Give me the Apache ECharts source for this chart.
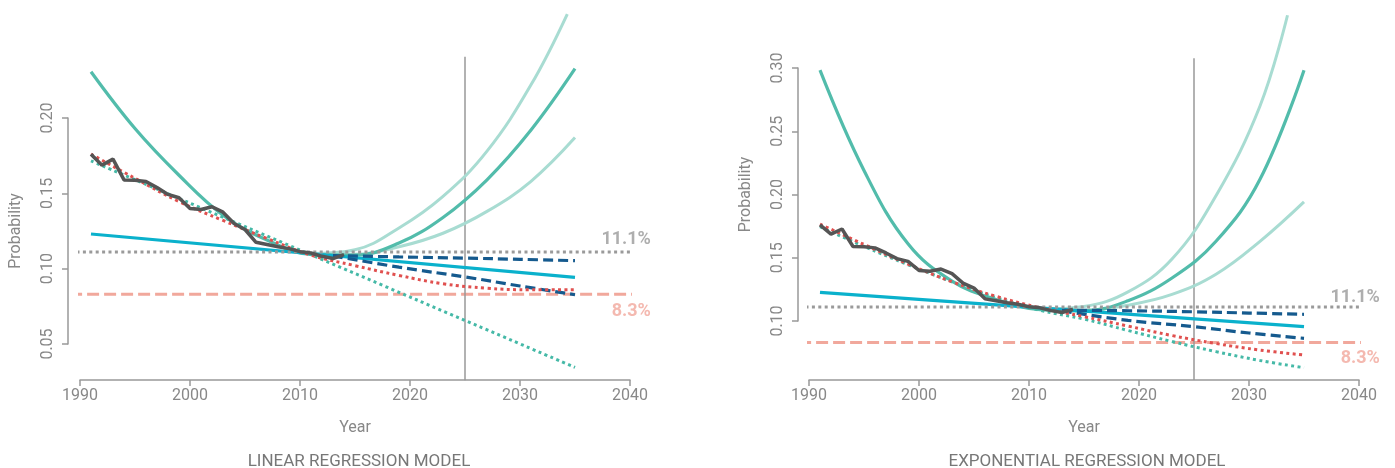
<!DOCTYPE html>
<html>
<head>
<meta charset="utf-8">
<script src="https://cdn.jsdelivr.net/npm/echarts@6/dist/echarts.min.js"></script>
<style>
  html, body { margin: 0; padding: 0; background: #fff; }
  #chart { width: 1395px; height: 468px; }
</style>
</head>
<body>
<div id="chart"></div>
<script>
// observed yearly probability (same in both panels)
const obsYears = [1991, 1992, 1993, 1994, 1995, 1996, 1997, 1998, 1999, 2000, 2001, 2002,
  2003, 2004, 2005, 2006, 2007, 2008, 2009, 2010, 2011, 2012, 2013, 2014]
const observed = [0.176, 0.1687, 0.1727, 0.1589, 0.1587, 0.1578, 0.1538, 0.1493, 0.1471, 0.140,
  0.1393, 0.1411, 0.1375, 0.130, 0.126, 0.1175, 0.116, 0.1145, 0.1133, 0.1113, 0.1104, 0.1082,
  0.1067, 0.1093]

// years the fitted curves were read at
const fitYears = [1991, 1995, 1999, 2003, 2007, 2011, 2015, 2019, 2023, 2027, 2031, 2035]
const lineYears = [1991, 2035]
const bandYears = [2011, 2015, 2019, 2023, 2027, 2031, 2035]
const dashYears = [2013, 2019, 2025, 2030, 2035]

// linear regression model (left)
const linRedDot = [0.176, 0.160, 0.1445, 0.132, 0.120, 0.109, 0.102, 0.0955, 0.090, 0.087, 0.086, 0.086]
const linGreenDot = [0.1715, 0.0345]
const linCurve = [0.2307, 0.193, 0.162, 0.1355, 0.119, 0.1095, 0.109, 0.117, 0.134, 0.159, 0.192, 0.2327]
const linUpperYears = [2011, 2015, 2019, 2023, 2027, 2031, 2034.3]
const linUpper = [0.110, 0.1125, 0.127, 0.148, 0.178, 0.222, 0.269]
const linLower = [0.110, 0.1095, 0.1145, 0.1235, 0.138, 0.158, 0.187]
const linCyan = [0.123, 0.0942]
const linDashHigh = [0.1087, 0.1078, 0.107, 0.1062, 0.1053]
const linDashLow = [0.1085, 0.101, 0.0945, 0.0885, 0.0827]

// exponential regression model (right)
const expRedDot = [0.1766, 0.1605, 0.145, 0.131, 0.1195, 0.1105, 0.1035, 0.096, 0.0885, 0.0822, 0.077, 0.0731]
const expGreenDot = [0.1745, 0.159, 0.1445, 0.131, 0.1185, 0.1085, 0.1015, 0.0925, 0.0838, 0.0758, 0.0688, 0.0631]
const expCurve = [0.2983, 0.219, 0.161, 0.1315, 0.117, 0.109, 0.108, 0.116, 0.134, 0.163, 0.212, 0.2983]
const expUpperYears = [2011, 2015, 2019, 2023, 2027, 2031, 2033.5]
const expUpper = [0.1095, 0.1115, 0.123, 0.149, 0.199, 0.27, 0.3417]
const expLower = [0.1095, 0.1085, 0.1125, 0.121, 0.137, 0.163, 0.1942]
const expCyan = [0.1227, 0.0955]
const expDashHigh = [0.1085, 0.1081, 0.1073, 0.1063, 0.1053]
const expDashLow = [0.108, 0.1005, 0.0955, 0.0905, 0.0863]

// reference levels and the 2025 marker
const refHigh = 0.111
const refLow = 0.083
const refSpan = [1989.1, 2041.9]
const markerYear = 2025
const linMarkerRange = [0.026, 0.2407]
const expMarkerRange = [0.0534, 0.3077]

const panelTitles = ['LINEAR REGRESSION MODEL', 'EXPONENTIAL REGRESSION MODEL']
const FONT = 'Roboto, sans-serif'

const zip = (xs, ys) => xs.map((x, i) => [x, ys[i]])

function line(g, data, color, width, type, z, smooth) {
  return {
    type: 'line', xAxisIndex: g, yAxisIndex: g, data,
    symbol: 'none', smooth: smooth ? 0.4 : false, clip: false, silent: true, z,
    lineStyle: { color, width, type: type || 'solid' },
  }
}

const DOT = [3, 3.4]
const DASH = [10, 5]

function panelSeries(g, d) {
  return [
    line(g, zip(d.upperYears, d.upper), '#a8dcd2', 3, null, 2, true),
    line(g, zip(bandYears, d.lower), '#a8dcd2', 3, null, 2, true),
    line(g, zip(fitYears, d.curve), '#52bcab', 3.2, null, 3, true),
    line(g, zip(lineYears, d.cyan), '#0ab1cc', 3.2, null, 4),
    line(g, zip(dashYears, d.dashHigh), '#155a8e', 3.2, DASH, 5, true),
    line(g, zip(dashYears, d.dashLow), '#155a8e', 3.2, DASH, 5, true),
    line(g, zip(d.greenYears, d.greenDot), '#45b9a7', 3, DOT, 6, true),
    line(g, zip(fitYears, d.redDot), '#e0504f', 3, DOT, 6, true),
    line(g, zip(refSpan, [refHigh, refHigh]), '#9a9a9a', 3, DOT, 6),
    line(g, zip(refSpan, [refLow, refLow]), '#f1a89c', 3, [12, 5], 1),
    line(g, zip([markerYear, markerYear], d.marker), '#999', 1.5, null, 1),
    line(g, zip(obsYears, observed), '#555', 3.5, null, 8),
    {
      type: 'scatter', xAxisIndex: g, yAxisIndex: g, clip: false, silent: true, symbolSize: 0,
      data: [[refSpan[1], refHigh]],
      label: { show: true, formatter: '11.1%', position: 'top', align: 'right', distance: d.gapHigh,
        color: '#9a9a9a', fontWeight: 'bold', fontSize: 18, fontFamily: FONT },
    },
    {
      type: 'scatter', xAxisIndex: g, yAxisIndex: g, clip: false, silent: true, symbolSize: 0,
      data: [[refSpan[1], refLow]],
      label: { show: true, formatter: '8.3%', position: 'bottom', align: 'right', distance: d.gapLow,
        color: '#f1a89c', fontWeight: 'bold', fontSize: 18, fontFamily: FONT },
    },
  ]
}

const axisColor = '#999'
const textStyle = { color: '#888', fontSize: 16, fontFamily: FONT }

function xAxis(g, offset) {
  return {
    type: 'value', gridIndex: g, min: 1990, max: 2040, interval: 10, offset,
    axisLine: { show: true, onZero: false, lineStyle: { color: axisColor, width: 1.5 } },
    axisTick: { show: true, length: 6, lineStyle: { color: axisColor, width: 1.5 } },
    axisLabel: { ...textStyle, margin: 8, formatter: (v) => String(v) },
    splitLine: { show: false },
    name: 'Year', nameLocation: 'middle', nameGap: 40, nameTextStyle: textStyle,
  }
}

function yAxis(g, min, max, offset) {
  return {
    type: 'value', gridIndex: g, min, max, interval: 0.05, offset,
    axisLine: { show: true, lineStyle: { color: axisColor, width: 1.5 } },
    axisTick: { show: true, length: 6, lineStyle: { color: axisColor, width: 1.5 } },
    axisLabel: { ...textStyle, rotate: 90, margin: 12, formatter: (v) => v.toFixed(2) },
    splitLine: { show: false },
    name: 'Probability', nameLocation: 'middle', nameGap: 44, nameRotate: 90, nameTextStyle: textStyle,
  }
}

const chart = echarts.init(document.getElementById('chart'))

chart.setOption({
  animation: false,
  backgroundColor: '#fff',
  title: [
    { text: panelTitles[0], left: 354, top: 448, textAlign: 'center',
      textStyle: { ...textStyle, fontSize: 17, color: '#777', fontWeight: 'normal' } },
    { text: panelTitles[1], left: 1082, top: 448, textAlign: 'center',
      textStyle: { ...textStyle, fontSize: 17, color: '#777', fontWeight: 'normal' } },
  ],
  grid: [
    { left: 80, top: 118, width: 550, height: 226 },
    { left: 809, top: 68, width: 550, height: 253 },
  ],
  xAxis: [xAxis(0, 36), xAxis(1, 59)],
  yAxis: [yAxis(0, 0.05, 0.20, 12), yAxis(1, 0.10, 0.30, 11)],
  series: [
    ...panelSeries(0, {
      upperYears: linUpperYears, upper: linUpper, lower: linLower, curve: linCurve, cyan: linCyan,
      dashHigh: linDashHigh, dashLow: linDashLow, greenYears: lineYears, greenDot: linGreenDot,
      redDot: linRedDot, marker: linMarkerRange, gapHigh: 4, gapLow: 8,
    }),
    ...panelSeries(1, {
      upperYears: expUpperYears, upper: expUpper, lower: expLower, curve: expCurve, cyan: expCyan,
      dashHigh: expDashHigh, dashLow: expDashLow, greenYears: fitYears, greenDot: expGreenDot,
      redDot: expRedDot, marker: expMarkerRange, gapHigh: 1, gapLow: 7,
    }),
  ],
})
</script>
</body>
</html>
